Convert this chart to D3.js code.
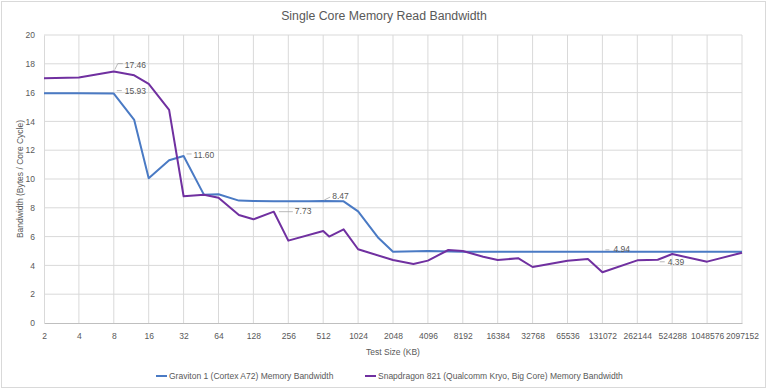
<!DOCTYPE html>
<html>
<head>
<meta charset="utf-8">
<script src="https://cdnjs.cloudflare.com/ajax/libs/d3/7.8.5/d3.min.js"></script>
<style>
    body { margin: 0; background: #fff; }
    text { font-family: "Liberation Sans", Arial, sans-serif; fill: #595959; }
</style>
</head>
<body>
<svg id="chart"></svg>
<script>
// test sizes in KB
var sizes = [2, 4, 8, 12, 16, 24, 32, 48, 64, 96, 128, 192, 256, 384, 512, 576, 768,
    1024, 1536, 2048, 3072, 4096, 6144, 8192, 12288, 16384, 24576, 32768, 65536, 98304,
    131072, 262144, 393216, 524288, 1048576, 2097152];

// bytes / core cycle, null = no point at that size
var graviton = [15.95, 15.95, 15.93, 14.1, 10.05, 11.3, 11.60, 8.9, 8.94, 8.5, 8.47, 8.45, 8.45, 8.45, 8.47, null, 8.45,
    7.75, 5.9, 4.95, null, 5.0, null, 4.95, null, 4.95, null, 4.94, 4.94, null,
    4.94, 4.94, null, 4.94, 4.94, 4.94];
var snapdragon = [17.0, 17.05, 17.46, 17.2, 16.6, 14.8, 8.8, 8.9, 8.7, 7.5, 7.2, 7.73, 5.72, null, 6.39, 6.0, 6.5,
    5.12, null, 4.37, 4.1, 4.33, 5.07, 5.0, 4.6, 4.37, 4.5, 3.89, 4.33, 4.44,
    3.52, 4.35, 4.39, 4.79, 4.26, 4.88];

var xTicks = [2, 4, 8, 16, 32, 64, 128, 256, 512, 1024, 2048, 4096, 8192, 16384, 32768,
    65536, 131072, 262144, 524288, 1048576, 2097152];
var yTicks = [0, 2, 4, 6, 8, 10, 12, 14, 16, 18, 20];

var seriesNames = ["Graviton 1 (Cortex A72) Memory Bandwidth",
    "Snapdragon 821 (Qualcomm Kryo, Big Core) Memory Bandwidth"];

// data labels: series index, size
var labelPoints = [[1, 8], [0, 8], [0, 32], [0, 512], [1, 192], [0, 131072], [1, 393216]];

var colors = ["#4a7ac4", "#7030a0"];
var width = 768, height = 390;

var svg = d3.select("#chart")
    .attr("width", width)
    .attr("height", height);

// chart border
svg.append("rect")
    .attr("x", 1.5).attr("y", 1.5)
    .attr("width", width - 4).attr("height", height - 4)
    .attr("fill", "#fff")
    .attr("stroke", "#d9d9d9");

var x = d3.scaleLog().base(2).domain([2, 2097152]).range([44, 742]);
var y = d3.scaleLinear().domain([0, 20]).range([323, 35]);

// gridlines
svg.append("g")
    .selectAll("line")
    .data(yTicks.slice(1))
    .enter()
    .append("line")
    .attr("x1", x(2)).attr("x2", x(2097152))
    .attr("y1", d => y(d)).attr("y2", d => y(d))
    .attr("stroke", "#d9d9d9");

svg.append("g")
    .selectAll("line")
    .data(xTicks.slice(1))
    .enter()
    .append("line")
    .attr("x1", d => x(d)).attr("x2", d => x(d))
    .attr("y1", y(0)).attr("y2", y(20))
    .attr("stroke", "#d9d9d9");

// axes
var xAxis = svg.append("g")
    .attr("transform", "translate(0," + y(0) + ")")
    .call(d3.axisBottom(x).tickValues(xTicks).tickFormat(d3.format("d")).tickSize(0).tickPadding(10));
var yAxis = svg.append("g")
    .attr("transform", "translate(" + x(2) + ",0)")
    .call(d3.axisLeft(y).tickValues(yTicks).tickSize(0).tickPadding(9));

xAxis.select(".domain").attr("stroke", "#bfbfbf");
yAxis.select(".domain").attr("stroke", "#d9d9d9");
svg.selectAll(".tick text")
    .attr("fill", "#595959")
    .style("font-size", "8.5px");

// series lines
var line = d3.line()
    .x(d => x(d[0]))
    .y(d => y(d[1]));

[graviton, snapdragon].forEach(function(vals, i) {
    var pts = sizes.map((s, j) => [s, vals[j]]).filter(p => p[1] != null);
    svg.append("path")
        .datum(pts)
        .attr("fill", "none")
        .attr("stroke", colors[i])
        .attr("stroke-width", 2)
        .attr("stroke-linejoin", "round")
        .attr("d", line);
});

// data labels with leader lines
var labelOffsets = [
    { lead: [[1, -2], [4, -8], [9, -8]], tx: 11, ty: -4 },
    { lead: [[3, -3], [8, -3]], tx: 11, ty: 0 },
    { lead: [[3, -2], [8, -2]], tx: 10, ty: 2 },
    { lead: [[1, -1], [7, -4]], tx: 9, ty: -2 },
    { lead: [[5, 0], [19, 0]], tx: 21, ty: 2.5 },
    { lead: [[3, -2], [7, -2]], tx: 11, ty: 0 },
    { lead: [[2, 2], [7, 2]], tx: 10, ty: 5.5 }
];

labelPoints.forEach(function(lp, i) {
    var vals = lp[0] == 0 ? graviton : snapdragon;
    var v = vals[sizes.indexOf(lp[1])];
    var px = x(lp[1]), py = y(v);
    var o = labelOffsets[i];
    svg.append("polyline")
        .attr("points", o.lead.map(p => (px + p[0]) + "," + (py + p[1])).join(" "))
        .attr("fill", "none")
        .attr("stroke", "#a6a6a6")
        .attr("stroke-width", 0.8);
    svg.append("text")
        .attr("x", px + o.tx)
        .attr("y", py + o.ty)
        .style("font-size", "8.5px")
        .text(v.toFixed(2));
});

// titles
svg.append("text")
    .attr("x", 384).attr("y", 20)
    .attr("text-anchor", "middle")
    .style("font-size", "12.3px")
    .text("Single Core Memory Read Bandwidth");

svg.append("text")
    .attr("x", 393).attr("y", 355)
    .attr("text-anchor", "middle")
    .style("font-size", "8.5px")
    .text("Test Size (KB)");

svg.append("text")
    .attr("transform", "translate(23,179) rotate(-90)")
    .attr("text-anchor", "middle")
    .style("font-size", "8.5px")
    .text("Bandwidth (Bytes / Core Cycle)");

// legend
var legendX = [156, 365];
seriesNames.forEach(function(name, i) {
    var g = svg.append("g").attr("transform", "translate(" + legendX[i] + ",376)");
    g.append("line")
        .attr("x1", 0).attr("x2", 11)
        .attr("stroke", colors[i])
        .attr("stroke-width", 2);
    g.append("text")
        .attr("x", 13).attr("y", 3)
        .style("font-size", "8.5px")
        .text(name);
});
</script>
</body>
</html>
